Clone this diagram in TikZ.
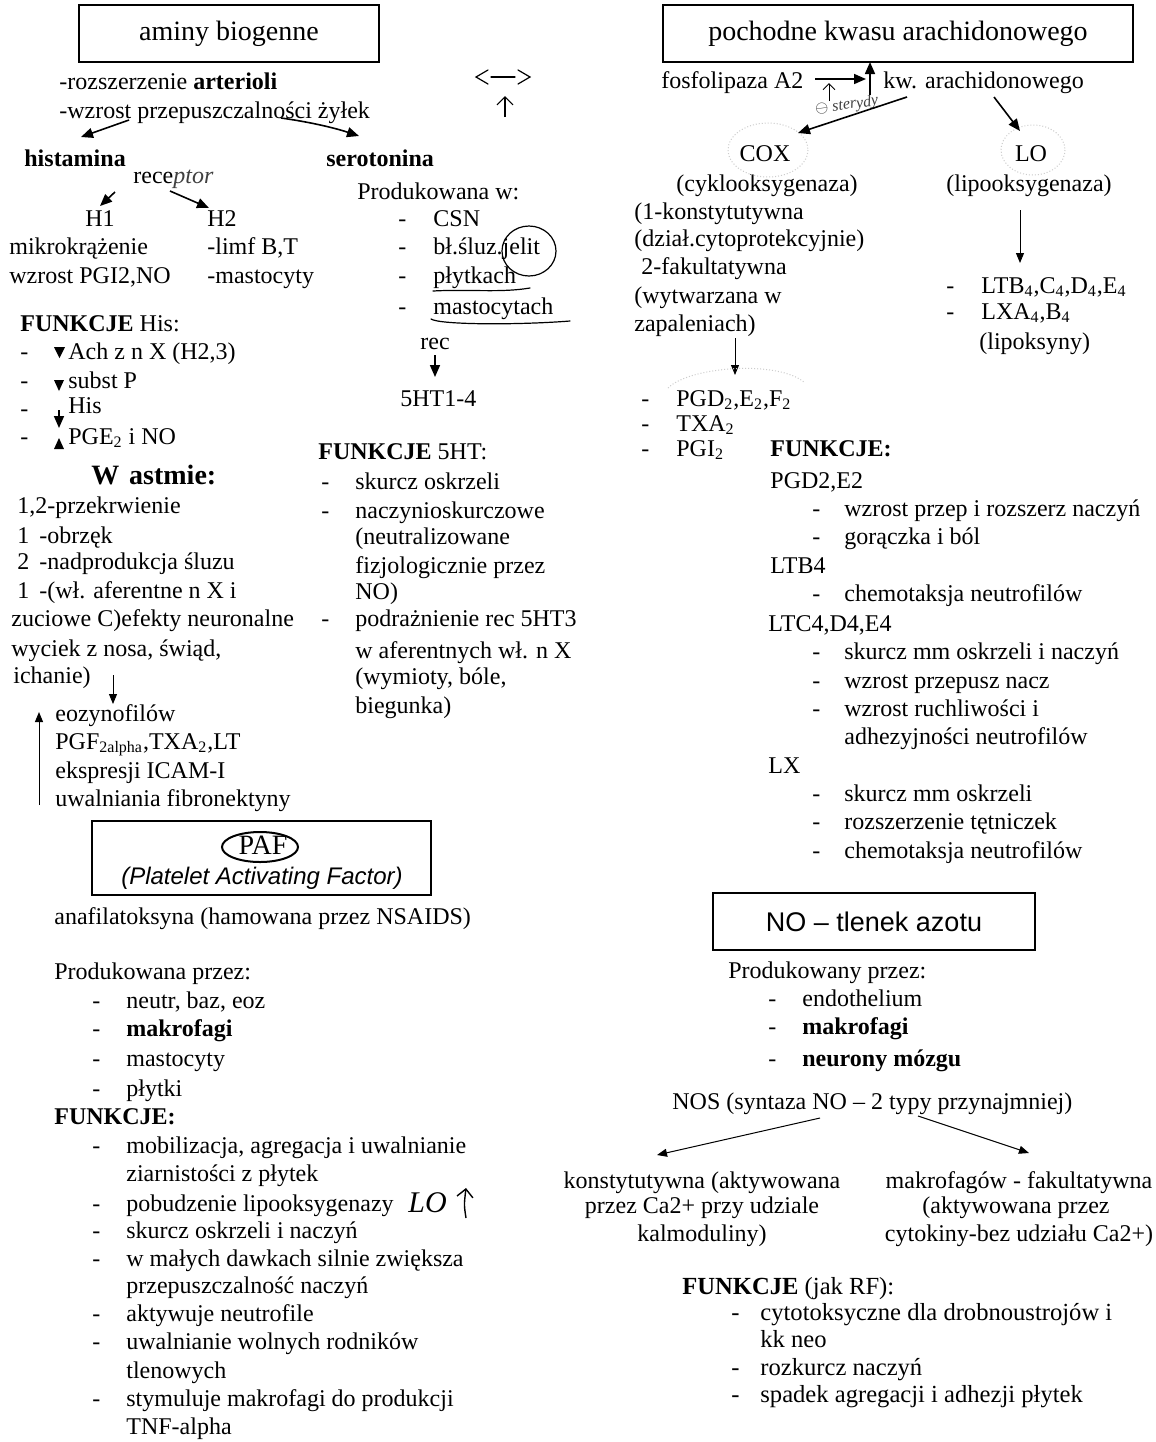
\documentclass[tikz,border=0pt]{standalone}
\usepackage{fontspec}
\setmainfont{Liberation Serif}
\newfontfamily\arialf{Liberation Sans}
\usetikzlibrary{arrows.meta,calc}
\begin{document}
\begin{tikzpicture}[x=0.5pt,y=-0.5pt,
  t/.style={anchor=west,inner sep=0pt,text height=1.6ex,text depth=.25ex,font=\fontsize{12}{14}\selectfont},
  tc/.style={t,anchor=center},
  tw/.style={t,font=\fontsize{12.3}{14}\selectfont},
  big/.style={font=\fontsize{14}{16}\selectfont},
  boxx/.style={draw,line width=0.8pt,inner sep=0pt,anchor=center},
  arr/.style={line width=0.8pt,-{Triangle[length=6pt,width=5pt]}},
  thinarr/.style={line width=0.5pt,-{Triangle[length=5pt,width=4pt]}},
  hand/.style={line width=0.6pt,line cap=round},
  faint/.style={gray!40,densely dotted,line width=0.5pt},
  hw/.style={anchor=west,inner sep=0pt,font=\itshape\fontsize{8}{9}\selectfont,text=darkgray}
]
\useasboundingbox[fill=white] (0,0) rectangle (1156,1442);

% ===================== LEFT: aminy biogenne =====================
\node[boxx,minimum width=150pt,minimum height=28.5pt,big] (amb) at (229,33.5) {aminy biogenne};
\node[t] (r1) at (59,83) {-rozszerzenie \textbf{arterioli}};
\node[t] (r2) at (59,112) {-wzrost przepuszczalności żyłek};
% handwritten <-> and up arrow
\coordinate (lr) at (503,77);
\draw[hand] ($(lr)+(-15,-7)$) -- ($(lr)+(-27,0)$) -- ($(lr)+(-15,7)$);
\draw[hand] ($(lr)+(-12,0)$) -- ($(lr)+(12,0)$);
\draw[hand] ($(lr)+(15,-7)$) -- ($(lr)+(27,0)$) -- ($(lr)+(15,7)$);
\coordinate (upA) at (505,117); \coordinate (upB) at (505,96);
\draw[line width=0.6pt,-{Straight Barb[length=4pt]}] (upA) -- (upB);

\node[t] (hist) at (24,160) {\textbf{histamina}};
\node[t] (sero) at (326,160) {\textbf{serotonina}};
\coordinate (a1s) at (129,120); \coordinate (a1e) at (81,137);
\draw[arr] (a1s) -- (a1e);
\coordinate (a2s) at (281,118); \coordinate (a2e) at (359,136);
\draw[arr] (a2s) .. controls (310,122) and (335,128) .. (a2e);

\node[t] (rec) at (133,177) {rece{\itshape\color{darkgray}ptor}};
\coordinate (h1s) at (115,192); \coordinate (h1e) at (100,206);
\draw[arr] (h1s) -- (h1e);
\coordinate (h2s) at (170,191); \coordinate (h2e) at (209,208);
\draw[arr] (h2s) -- (h2e);
\node[t] (h1) at (85,220) {H1};
\node[t] (h2) at (207,220) {H2};
\node[t] (mik) at (9,248) {mikrokrążenie};
\node[t] (limf) at (207,248) {-limf B,T};
\node[t] (wzr) at (9,277) {wzrost PGI2,NO};
\node[t] (mst) at (207,277) {-mastocyty};

% serotonina production
\node[t] (prodw) at (357,193) {Produkowana w:};
\foreach \yy in {220,248,277,308} \node[t] at (398,\yy) {-};
\node[t] (csn) at (433,220) {CSN};
\node[t] (blsl) at (433,248) {bł.śluz.jelit};
\node[t] (plyt) at (433,277) {płytkach};
\node[t] (mastc) at (433,308) {mastocytach};
\draw[hand] (529,251) ellipse [x radius=27,y radius=25];
\draw[hand] (433,291) .. controls (470,289) and (500,293) .. (530,288);
\draw[hand] (431,319) .. controls (440,325) and (520,325) .. (570,321);
\node[t] (rec2) at (420,343) {rec};
\coordinate (r5s) at (435,355); \coordinate (r5e) at (435,377);
\draw[arr] (r5s) -- (r5e);
\node[t] (ht) at (400,400) {5HT1-4};

% FUNKCJE 5HT
\node[t] (f5) at (318,453) {\textbf{FUNKCJE} 5HT:};
\foreach \yy in {483,512,620} \node[t] at (321,\yy) {-};
\node[t] (s1) at (355,483) {skurcz oskrzeli};
\node[t] (s2) at (355,512) {naczynioskurczowe};
\node[t] (s3) at (355,538) {(neutralizowane};
\node[t] (s4) at (355,567) {fizjologicznie przez};
\node[t] (s5) at (355,593) {NO)};
\node[t] (s6) at (355,620) {podrażnienie rec 5HT3};
\node[t] (s7) at (355,652) {w aferentnych wł. n X};
\node[t] (s8) at (355,678) {(wymioty, bóle,};
\node[t] (s9) at (355,707) {biegunka)};

% FUNKCJE His
\node[t] (fh) at (20,325) {\textbf{FUNKCJE} His:};
\foreach \yy in {353,382,410,438} \node[t] at (20,\yy) {-};
\node[t] (fh1) at (68,353) {Ach z n X (H2,3)};
\node[t] (fh2) at (68,382) {subst P};
\node[t] (fh3) at (68,407) {His};
\node[t] (fh4) at (68,438) {PGE\textsubscript{2} i NO};
\fill (54,347) -- (65,347) -- (59.5,358) -- cycle;
\fill (54,380) -- (64,380) -- (59,391) -- cycle;
\coordinate (hs1) at (59,410); \coordinate (hs2) at (59,428);
\draw[arr] (hs1) -- (hs2);
\fill (54,449) -- (64,449) -- (59,438) -- cycle;

% W astmie
\node[t,big] (wa) at (91,478) {\textbf{W\hspace{0.35em}astmie:}};
\node[t] (w1) at (17,507) {1,2-przekrwienie};
\node[t] at (17,537) {1}; \node[t] (w2) at (39,537) {-obrzęk};
\node[t] at (17,563) {2}; \node[t] (w3) at (39,563) {-nadprodukcja śluzu};
\node[t] at (17,592) {1}; \node[t] (w4) at (39,592) {-(wł. aferentne n X i};
\node[t] (w5) at (11,620) {zuciowe C)efekty neuronalne};
\node[t] (w6) at (11,650) {wyciek z nosa, świąd,};
\node[t] (w7) at (13,677) {ichanie)};
\coordinate (ws) at (113,675); \coordinate (we) at (113,704);
\draw[thinarr] (ws) -- (we);
\node[t] (e1) at (55,715) {eozynofilów};
\node[t] (e2) at (55,743) {PGF\textsubscript{2alpha},TXA\textsubscript{2},LT};
\node[t] (e3) at (55,772) {ekspresji ICAM-I};
\node[t] (e4) at (55,800) {uwalniania fibronektyny};
\coordinate (us) at (39,805); \coordinate (ue) at (39,712);
\draw[thinarr] (us) -- (ue);

% ===================== PAF =====================
\node[boxx,line width=1.2pt,minimum width=169.5pt,minimum height=37pt] (pafbox) at (261.5,858) {};
\node[tc,big] (paf) at (263,848) {PAF};
\draw[line width=1pt] (260,847) ellipse [x radius=38,y radius=15];
\node[tc,font=\arialf\itshape\fontsize{12}{14}\selectfont] (plf) at (262,878) {(Platelet Activating Factor)};
\node[t] (anaf) at (54,918) {anafilatoksyna (hamowana przez NSAIDS)};
\node[t] (pprz) at (54,973) {Produkowana przez:};
\foreach \yy in {1002,1030,1060,1090} \node[t] at (92,\yy) {-};
\node[t] (p1) at (126,1002) {neutr, baz, eoz};
\node[t] (p2) at (126,1030) {\textbf{makrofagi}};
\node[t] (p3) at (126,1060) {mastocyty};
\node[t] (p4) at (126,1090) {płytki};
\node[t] (pf) at (54,1118) {\textbf{FUNKCJE:}};
\foreach \yy in {1147,1205,1232,1260,1315,1343,1400} \node[t] at (92,\yy) {-};
\node[t] (q1) at (126,1147) {mobilizacja, agregacja i uwalnianie};
\node[t] (q2) at (126,1175) {ziarnistości z płytek};
\node[t] (q3) at (126,1205) {pobudzenie lipooksygenazy};
\node[t] (q4) at (126,1232) {skurcz oskrzeli i naczyń};
\node[t] (q5) at (126,1260) {w małych dawkach silnie zwiększa};
\node[t] (q6) at (126,1287) {przepuszczalność naczyń};
\node[t] (q7) at (126,1315) {aktywuje neutrofile};
\node[t] (q8) at (126,1343) {uwalnianie wolnych rodników};
\node[t] (q9) at (126,1372) {tlenowych};
\node[t] (q10) at (126,1400) {stymuluje makrofagi do produkcji};
\node[t] (q11) at (126,1428) {TNF-alpha};
\node[anchor=west,inner sep=0pt,font=\itshape\fontsize{15}{16}\selectfont] (lohw) at (408,1203) {LO};
\coordinate (lh1) at (466,1218); \coordinate (lh2) at (466,1188);
\draw[line width=0.7pt,-{Straight Barb[length=4pt]}] (lh1) .. controls (464,1205) .. (lh2);

% ===================== RIGHT: arachidonic =====================
\node[boxx,minimum width=235pt,minimum height=28.5pt,big] (pka) at (898,33.5) {pochodne kwasu arachidonowego};
\node[t] (fosf) at (661,82) {fosfolipaza A2};
\node[t] (kw) at (883,82) {kw. arachidonowego};
\coordinate (fa1) at (815,79); \coordinate (fa2) at (866,79);
\draw[arr] (fa1) -- (fa2);
\coordinate (fv1) at (870,95); \coordinate (fv2) at (870,62);
\draw[arr] (fv1) -- (fv2);
\coordinate (st1) at (829,101); \coordinate (st2) at (829,83);
\draw[line width=0.5pt,-{Straight Barb[length=3pt]}] (st1) -- (st2);
\node[hw,rotate=8] (ster) at (815,110) {$\ominus$ sterydy};

\node[tc] (cox) at (765,155) {COX};
\node[tc] (lo) at (1031,155) {LO};
\node[tc] (cyk) at (767,185) {(cyklooksygenaza)};
\node[tc] (lip) at (1029,185) {(lipooksygenaza)};
\draw[faint] (768,150) ellipse [x radius=40,y radius=27];
\draw[faint] (1033,150) ellipse [x radius=32,y radius=25];
\coordinate (kc1) at (907,97); \coordinate (kc2) at (798,133);
\draw[arr] (kc1) -- (kc2);
\coordinate (kl1) at (994,97); \coordinate (kl2) at (1020,131);
\draw[arr] (kl1) -- (kl2);

\node[t] (k1) at (634,213) {(1-konstytutywna};
\node[t] (k2) at (634,240) {(dział.cytoprotekcyjnie)};
\node[t] (k3) at (641,268) {2-fakultatywna};
\node[t] (k4) at (634,297) {(wytwarzana w};
\node[t] (k5) at (634,325) {zapaleniach)};
\coordinate (zp1) at (735,338); \coordinate (zp2) at (735,375);
\draw[thinarr] (zp1) -- (zp2);
\draw[faint] (668,388) .. controls (690,366) and (780,360) .. (805,383);
\foreach \yy in {400,425,450} \node[t] at (641,\yy) {-};
\node[t] (pg1) at (676,400) {PGD\textsubscript{2},E\textsubscript{2},F\textsubscript{2}};
\node[t] (pg2) at (676,425) {TXA\textsubscript{2}};
\node[t] (pg3) at (676,450) {PGI\textsubscript{2}};

\coordinate (lv1) at (1020,210); \coordinate (lv2) at (1020,263);
\draw[thinarr] (lv1) -- (lv2);
\foreach \yy in {287,313} \node[t] at (946,\yy) {-};
\node[t] (lt1) at (981,287) {LTB\textsubscript{4},C\textsubscript{4},D\textsubscript{4},E\textsubscript{4}};
\node[t] (lt2) at (981,313) {LXA\textsubscript{4},B\textsubscript{4}};
\node[t] (lt3) at (979,343) {(lipoksyny)};

\node[t] (fk) at (770,450) {\textbf{FUNKCJE:}};
\node[t] (g1) at (770,482) {PGD2,E2};
\node[t] (g2) at (770,567) {LTB4};
\node[t] (g3) at (768,625) {LTC4,D4,E4};
\node[t] (g4) at (768,767) {LX};
\foreach \yy in {510,538,595,653,682,710,795,823,852} \node[t] at (812,\yy) {-};
\node[t] (i1) at (844,510) {wzrost przep i rozszerz naczyń};
\node[t] (i2) at (844,538) {gorączka i ból};
\node[t] (i3) at (844,595) {chemotaksja neutrofilów};
\node[t] (i4) at (844,653) {skurcz mm oskrzeli i naczyń};
\node[t] (i5) at (844,682) {wzrost przepusz nacz};
\node[t] (i6) at (844,710) {wzrost ruchliwości i};
\node[t] (i7) at (844,738) {adhezyjności neutrofilów};
\node[t] (i8) at (844,795) {skurcz mm oskrzeli};
\node[t] (i9) at (844,823) {rozszerzenie tętniczek};
\node[t] (i10) at (844,852) {chemotaksja neutrofilów};

% ===================== NO =====================
\node[boxx,minimum width=161pt,minimum height=28.5pt,font=\arialf\fontsize{13.5}{15}\selectfont] (nob) at (874,921.5) {NO – tlenek azotu};
\node[t] (npr) at (728,972) {Produkowany przez:};
\foreach \yy in {1000,1028,1060} \node[t] at (768,\yy) {-};
\node[t] (n1) at (802,1000) {endothelium};
\node[t] (n2) at (802,1028) {\textbf{makrofagi}};
\node[t] (n3) at (802,1060) {\textbf{neurony mózgu}};
\node[t] (nos) at (672,1103) {NOS (syntaza NO – 2 typy przynajmniej)};
\coordinate (ns1) at (820,1118); \coordinate (ns2) at (657,1155);
\draw[thinarr] (ns1) -- (ns2);
\coordinate (ns3) at (918,1116); \coordinate (ns4) at (1029,1153);
\draw[thinarr] (ns3) -- (ns4);
\node[tc] (c1) at (702,1182) {konstytutywna (aktywowana};
\node[tc] (c2) at (702,1207) {przez Ca2+ przy udziale};
\node[tc] (c3) at (702,1235) {kalmoduliny)};
\node[tc] (m1) at (1019,1182) {makrofagów - fakultatywna};
\node[tc] (m2) at (1016,1207) {(aktywowana przez};
\node[tc] (m3) at (1019,1235) {cytokiny-bez udziału Ca2+)};
\node[tw] (nf) at (682,1288) {\textbf{FUNKCJE} (jak RF):};
\foreach \yy in {1314,1369,1396} \node[tw] at (731,\yy) {-};
\node[tw] (o1) at (760,1314) {cytotoksyczne dla drobnoustrojów i};
\node[tw] (o2) at (760,1341) {kk neo};
\node[tw] (o3) at (760,1369) {rozkurcz naczyń};
\node[tw] (o4) at (760,1396) {spadek agregacji i adhezji płytek};
\end{tikzpicture}
\end{document}
